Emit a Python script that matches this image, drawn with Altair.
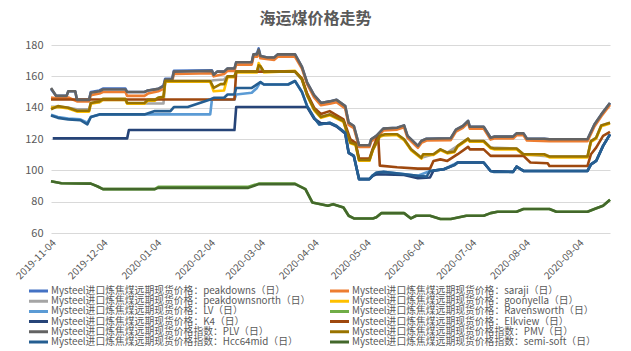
import altair as alt
import pandas as pd

FONT = "Noto Sans CJK SC"

LABELS = [
    "Mysteel进口炼焦煤远期现货价格：peakdowns（日）",
    "Mysteel进口炼焦煤远期现货价格：saraji（日）",
    "Mysteel进口炼焦煤远期现货价格：peakdownsnorth（日）",
    "Mysteel进口炼焦煤远期现货价格：goonyella（日）",
    "Mysteel进口炼焦煤远期现货价格：LV（日）",
    "Mysteel进口炼焦煤远期现货价格：Ravensworth（日）",
    "Mysteel进口炼焦煤远期现货价格：K4（日）",
    "Mysteel进口炼焦煤远期现货价格：Elkview（日）",
    "Mysteel进口炼焦煤远期现货价格指数：PLV（日）",
    "Mysteel进口炼焦煤远期现货价格指数：PMV（日）",
    "Mysteel进口炼焦煤远期现货价格指数：Hcc64mid（日）",
    "Mysteel进口炼焦煤远期现货价格指数：semi-soft（日）",
]
COLORS = ["#4472C4", "#ED7D31", "#A5A5A5", "#FFC000", "#5B9BD5", "#70AD47",
          "#264478", "#9E480E", "#636363", "#997300", "#255E91", "#43682B"]
# legend columns are filled top-to-bottom: left column first, then right column
LEGEND_ORDER = [0, 2, 4, 6, 8, 10, 1, 3, 5, 7, 9, 11]

PEAKDOWNS = [("2019-11-04",152.0),("2019-11-07",147.5),("2019-11-13",147.5),("2019-11-14",150.5),("2019-11-18",150.5),("2019-11-19",145.0),("2019-11-26",145.0),("2019-11-27",150.0),("2019-12-02",151.0),("2019-12-04",152.2),("2019-12-17",152.2),("2019-12-18",150.0),("2019-12-28",150.0),("2019-12-30",151.0),("2020-01-05",152.0),("2020-01-08",154.0),("2020-01-09",158.5),("2020-01-13",158.5),("2020-01-14",163.5),("2020-02-05",163.8),("2020-02-06",161.0),("2020-02-08",163.0),("2020-02-12",163.0),("2020-02-14",165.0),("2020-02-18",165.0),("2020-02-19",169.0),("2020-02-28",169.0),("2020-02-29",174.0),("2020-03-02",174.5),("2020-03-03",177.8),("2020-03-04",173.0),("2020-03-08",172.0),("2020-03-12",172.0),("2020-03-14",174.0),("2020-03-24",174.0),("2020-03-28",166.0),("2020-03-31",156.0),("2020-04-04",148.0),("2020-04-08",143.0),("2020-04-13",144.0),("2020-04-17",145.0),("2020-04-22",141.0),("2020-04-24",130.4),("2020-04-27",128.3),("2020-04-30",116.0),("2020-05-06",116.0),("2020-05-07",119.8),("2020-05-10",122.0),("2020-05-14",126.6),("2020-05-22",127.2),("2020-05-26",128.7),("2020-05-28",122.0),("2020-06-03",115.6),("2020-06-05",118.7),("2020-06-08",120.2),("2020-06-22",120.5),("2020-06-25",126.0),("2020-06-29",128.3),("2020-07-02",131.5),("2020-07-03",127.8),("2020-07-11",127.8),("2020-07-15",120.8),("2020-07-17",121.5),("2020-07-28",121.5),("2020-07-30",123.6),("2020-08-03",123.6),("2020-08-05",120.2),("2020-08-15",120.2),("2020-08-18",119.8),("2020-09-09",119.8),("2020-09-13",129.3),("2020-09-17",135.7),("2020-09-22",143.0)]

SARAJI = [("2019-11-04",146.5),("2019-11-07",146.0),("2019-11-13",146.0),("2019-11-14",146.5),("2019-11-19",144.0),("2019-11-26",144.0),("2019-11-27",148.0),("2019-12-02",149.0),("2019-12-04",150.0),("2019-12-17",150.0),("2019-12-18",147.5),("2019-12-28",147.5),("2019-12-30",149.0),("2020-01-05",150.5),("2020-01-08",152.0),("2020-01-09",156.5),("2020-01-13",156.5),("2020-01-14",161.5),("2020-02-05",162.0),("2020-02-06",160.0),("2020-02-12",161.5),("2020-02-14",163.5),("2020-02-18",163.5),("2020-02-19",167.5),("2020-02-28",167.5),("2020-02-29",172.5),("2020-03-02",172.5),("2020-03-03",175.5),("2020-03-04",171.5),("2020-03-12",170.5),("2020-03-14",172.5),("2020-03-24",172.5),("2020-03-28",165.0),("2020-03-31",155.0),("2020-04-04",146.5),("2020-04-08",141.5),("2020-04-13",142.5),("2020-04-17",143.5),("2020-04-22",139.5),("2020-04-24",129.0),("2020-04-27",127.0),("2020-04-30",115.0),("2020-05-06",115.0),("2020-05-07",118.5),("2020-05-10",120.8),("2020-05-14",125.4),("2020-05-22",126.0),("2020-05-26",127.5),("2020-05-28",120.8),("2020-06-03",114.4),("2020-06-05",117.5),("2020-06-08",119.0),("2020-06-22",119.3),("2020-06-25",124.8),("2020-06-29",127.1),("2020-07-02",130.3),("2020-07-03",126.6),("2020-07-11",126.6),("2020-07-15",119.6),("2020-07-17",120.3),("2020-07-28",120.3),("2020-07-30",122.4),("2020-08-03",122.4),("2020-08-05",119.0),("2020-08-18",118.6),("2020-09-09",118.6),("2020-09-13",128.0),("2020-09-17",134.5),("2020-09-22",141.8)]

PEAKDOWNSNORTH = [("2019-11-04",140.5),("2019-11-08",140.5),("2019-11-14",140.0),("2019-11-19",139.0),("2019-11-26",139.0),("2019-11-27",143.0),("2019-12-02",143.5),("2019-12-04",145.0),("2019-12-17",145.0),("2019-12-18",142.7),("2020-01-08",142.7),("2020-01-09",157.0),("2020-02-04",157.0),("2020-02-06",157.5),("2020-02-12",158.0),("2020-02-14",160.0),("2020-02-18",160.0),("2020-02-19",163.0),("2020-03-02",163.0),("2020-03-03",166.0),("2020-03-06",163.0),("2020-03-24",163.0),("2020-03-28",158.0),("2020-03-31",148.0),("2020-04-04",139.0),("2020-04-08",134.0),("2020-04-13",135.7),("2020-04-21",131.5),("2020-04-25",117.7),("2020-04-28",116.6),("2020-04-30",106.6),("2020-05-06",106.6),("2020-05-08",113.4),("2020-05-12",122.0),("2020-05-22",123.0),("2020-05-26",119.8),("2020-05-30",113.4),("2020-06-05",108.0),("2020-06-12",110.3),("2020-06-16",113.4),("2020-06-20",111.3),("2020-06-26",115.6),("2020-07-02",120.2),("2020-07-03",118.7),("2020-07-11",118.7),("2020-07-15",114.5),("2020-07-30",113.9),("2020-08-03",110.3),("2020-08-18",108.8),("2020-09-09",108.8),("2020-09-11",118.7),("2020-09-14",120.8),("2020-09-17",128.7),("2020-09-22",130.4)]

GOONYELLA = [("2019-11-04",140.0),("2019-11-08",140.5),("2019-11-14",139.5),("2019-11-19",137.5),("2019-11-26",137.5),("2019-11-27",142.5),("2019-12-02",143.5),("2019-12-04",145.0),("2019-12-17",145.0),("2019-12-18",142.5),("2019-12-28",142.5),("2019-12-30",144.5),("2020-01-03",144.5),("2020-01-05",146.0),("2020-01-08",146.5),("2020-01-09",156.5),("2020-02-04",156.5),("2020-02-06",150.5),("2020-02-12",151.0),("2020-02-14",159.5),("2020-02-18",159.5),("2020-02-19",162.5),("2020-03-02",162.5),("2020-03-03",168.5),("2020-03-06",162.5),("2020-03-24",163.5),("2020-03-28",158.5),("2020-03-31",148.0),("2020-04-04",138.5),("2020-04-08",133.5),("2020-04-13",135.2),("2020-04-21",131.0),("2020-04-25",117.2),("2020-04-28",116.1),("2020-04-30",106.1),("2020-05-06",106.1),("2020-05-08",112.9),("2020-05-12",121.5),("2020-05-15",122.5),("2020-05-22",122.5),("2020-05-26",119.3),("2020-05-30",112.9),("2020-06-05",107.5),("2020-06-06",109.8),("2020-06-12",109.8),("2020-06-16",112.9),("2020-06-20",110.8),("2020-06-24",111.5),("2020-06-26",115.1),("2020-07-02",119.7),("2020-07-03",118.2),("2020-07-11",118.2),("2020-07-15",114.0),("2020-07-17",113.4),("2020-07-30",113.4),("2020-08-03",109.8),("2020-08-15",109.8),("2020-08-18",108.3),("2020-09-09",108.3),("2020-09-11",118.2),("2020-09-14",120.3),("2020-09-17",128.2),("2020-09-22",129.9)]

LV = [("2019-11-04",135.5),("2019-11-08",134.0),("2019-11-14",133.0),("2019-11-21",132.5),("2019-11-25",130.4),("2019-11-27",134.0),("2019-12-02",135.7),("2020-02-04",135.7),("2020-02-05",145.2),("2020-02-18",145.2),("2020-02-19",148.4),("2020-02-28",149.5),("2020-03-02",152.6),("2020-03-04",156.3),("2020-03-06",154.8),("2020-03-20",154.8),("2020-03-24",157.0),("2020-03-28",150.0),("2020-03-31",141.0),("2020-04-04",133.6),("2020-04-07",129.3),("2020-04-13",130.4),("2020-04-17",128.3),("2020-04-22",124.0),("2020-04-24",111.3),("2020-04-27",109.2),("2020-04-30",94.4),("2020-05-06",94.4),("2020-05-08",96.9),("2020-05-14",99.0),("2020-06-03",96.5),("2020-06-10",99.6),("2020-06-18",100.7),("2020-06-26",105.0),("2020-07-11",105.0),("2020-07-15",99.6),("2020-07-28",99.0),("2020-07-30",102.3),("2020-08-03",99.6),("2020-09-09",99.6),("2020-09-11",103.8),("2020-09-14",106.0),("2020-09-18",115.6),("2020-09-22",123.0)]

RAVENSWORTH = [("2019-11-04",93.0),("2019-11-10",91.8),("2019-11-27",91.5),("2019-12-01",89.7),("2019-12-04",88.0),("2020-01-03",88.0),("2020-01-05",89.5),("2020-02-26",89.5),("2020-03-03",91.5),("2020-03-24",91.5),("2020-03-30",88.0),("2020-04-03",79.5),("2020-04-12",77.4),("2020-04-15",78.4),("2020-04-21",76.3),("2020-04-24",71.0),("2020-04-27",69.3),("2020-05-08",69.3),("2020-05-10",70.0),("2020-05-13",72.7),("2020-05-26",72.7),("2020-05-30",69.3),("2020-06-02",71.0),("2020-06-10",71.0),("2020-06-16",68.9),("2020-06-22",68.9),("2020-07-01",71.0),("2020-07-11",71.0),("2020-07-15",72.7),("2020-07-19",73.6),("2020-07-30",73.6),("2020-08-03",75.3),("2020-08-18",75.3),("2020-08-22",73.6),("2020-09-09",73.6),("2020-09-13",75.3),("2020-09-18",77.4),("2020-09-22",81.2)]

K4 = [("2019-11-05",120.4),("2019-12-18",120.4),("2019-12-19",125.7),("2020-02-18",125.7),("2020-02-19",140.4),("2020-03-31",140.4),("2020-04-04",133.0),("2020-04-08",130.0),("2020-04-13",130.0),("2020-04-17",128.0),("2020-04-22",123.5),("2020-04-24",111.0),("2020-04-27",109.0),("2020-04-30",94.4),("2020-05-06",94.4),("2020-05-08",96.5),("2020-05-10",97.5),("2020-05-26",97.0),("2020-06-03",95.0),("2020-06-10",95.4),("2020-06-12",99.8),("2020-06-18",100.7),("2020-06-24",103.3),("2020-06-26",105.0),("2020-07-11",105.0),("2020-07-15",99.6),("2020-07-28",99.0),("2020-07-30",102.3),("2020-08-03",99.6),("2020-09-09",99.6),("2020-09-11",103.8),("2020-09-14",106.0),("2020-09-18",115.6),("2020-09-22",123.0)]

ELKVIEW = [("2019-11-04",145.2),("2020-02-18",145.2),("2020-02-19",163.0),("2020-03-24",163.0),("2020-03-28",158.5),("2020-03-31",149.0),("2020-04-04",140.0),("2020-04-08",136.0),("2020-04-13",137.8),("2020-04-21",132.5),("2020-04-25",119.8),("2020-04-28",117.5),("2020-04-30",107.5),("2020-05-06",107.5),("2020-05-08",114.0),("2020-05-11",122.5),("2020-05-12",103.0),("2020-05-22",102.0),("2020-06-03",101.1),("2020-06-10",101.1),("2020-06-12",106.0),("2020-06-16",107.0),("2020-06-20",106.0),("2020-06-26",110.3),("2020-07-02",115.0),("2020-07-03",113.4),("2020-07-11",113.4),("2020-07-15",109.2),("2020-08-03",109.2),("2020-08-07",105.0),("2020-08-17",104.5),("2020-08-18",102.8),("2020-09-09",102.8),("2020-09-11",110.3),("2020-09-14",114.5),("2020-09-18",122.0),("2020-09-22",124.5)]

PLV = [("2019-11-04",152.6),("2019-11-07",147.5),("2019-11-13",147.5),("2019-11-14",150.5),("2019-11-18",150.5),("2019-11-19",145.0),("2019-11-26",145.0),("2019-11-27",149.5),("2019-12-02",150.5),("2019-12-04",151.6),("2019-12-17",151.6),("2019-12-18",150.0),("2019-12-28",150.0),("2019-12-30",151.0),("2020-01-05",152.0),("2020-01-08",153.7),("2020-01-09",158.0),("2020-01-13",158.0),("2020-01-14",163.0),("2020-02-05",163.5),("2020-02-06",161.0),("2020-02-08",163.0),("2020-02-12",163.0),("2020-02-14",165.0),("2020-02-18",165.0),("2020-02-19",169.0),("2020-02-28",169.0),("2020-02-29",174.0),("2020-03-02",174.0),("2020-03-03",177.0),("2020-03-04",173.0),("2020-03-08",172.0),("2020-03-12",172.0),("2020-03-14",174.0),("2020-03-24",174.0),("2020-03-28",166.0),("2020-03-31",156.0),("2020-04-04",148.0),("2020-04-08",143.0),("2020-04-13",144.0),("2020-04-17",145.0),("2020-04-22",141.0),("2020-04-24",130.4),("2020-04-27",128.3),("2020-04-30",116.0),("2020-05-06",116.0),("2020-05-07",119.8),("2020-05-10",122.0),("2020-05-14",126.6),("2020-05-22",127.2),("2020-05-26",128.7),("2020-05-28",122.0),("2020-06-03",115.6),("2020-06-05",118.7),("2020-06-08",120.2),("2020-06-22",120.5),("2020-06-25",126.0),("2020-06-29",128.3),("2020-07-02",131.5),("2020-07-03",127.8),("2020-07-11",127.8),("2020-07-15",120.8),("2020-07-17",121.5),("2020-07-28",121.5),("2020-07-30",123.6),("2020-08-03",123.6),("2020-08-05",120.2),("2020-08-15",120.2),("2020-08-18",119.8),("2020-09-09",119.8),("2020-09-13",129.3),("2020-09-17",135.7),("2020-09-22",143.0)]

PMV = [("2019-11-04",139.0),("2019-11-08",141.0),("2019-11-14",140.0),("2019-11-19",138.0),("2019-11-26",138.0),("2019-11-27",143.0),("2019-12-02",144.0),("2019-12-04",145.6),("2019-12-17",145.6),("2019-12-18",143.0),("2019-12-28",143.0),("2019-12-30",145.0),("2020-01-03",145.0),("2020-01-05",146.5),("2020-01-08",147.0),("2020-01-09",157.0),("2020-02-04",157.0),("2020-02-06",152.6),("2020-02-10",155.0),("2020-02-12",155.0),("2020-02-14",160.0),("2020-02-18",160.0),("2020-02-19",163.0),("2020-03-02",163.0),("2020-03-03",167.0),("2020-03-04",166.5),("2020-03-06",163.0),("2020-03-24",163.0),("2020-03-28",158.0),("2020-03-31",148.0),("2020-04-04",139.0),("2020-04-08",134.0),("2020-04-13",135.7),("2020-04-21",131.5),("2020-04-25",117.7),("2020-04-28",116.6),("2020-04-30",106.6),("2020-05-06",106.6),("2020-05-08",113.4),("2020-05-12",122.0),("2020-05-15",123.0),("2020-05-22",123.0),("2020-05-26",119.8),("2020-05-30",113.4),("2020-06-05",108.0),("2020-06-06",110.3),("2020-06-12",110.3),("2020-06-16",113.4),("2020-06-20",111.3),("2020-06-24",112.0),("2020-06-26",115.6),("2020-07-02",120.2),("2020-07-03",118.7),("2020-07-11",118.7),("2020-07-15",114.5),("2020-07-17",113.9),("2020-07-30",113.9),("2020-08-03",110.3),("2020-08-15",110.3),("2020-08-18",108.8),("2020-09-09",108.8),("2020-09-11",118.7),("2020-09-14",120.8),("2020-09-17",128.7),("2020-09-22",130.4)]

HCC64MID = [("2019-11-04",135.0),("2019-11-08",133.5),("2019-11-14",132.5),("2019-11-21",132.0),("2019-11-25",129.3),("2019-11-27",134.0),("2019-12-02",135.7),("2019-12-28",135.7),("2020-01-03",137.8),("2020-01-12",137.8),("2020-01-14",140.4),("2020-01-22",140.4),("2020-02-04",145.2),("2020-02-06",146.3),("2020-02-12",146.3),("2020-02-14",148.4),("2020-02-18",148.4),("2020-02-19",152.6),("2020-02-28",152.6),("2020-03-04",156.3),("2020-03-06",154.8),("2020-03-20",154.8),("2020-03-24",157.0),("2020-03-28",150.0),("2020-03-31",141.0),("2020-04-04",133.6),("2020-04-07",129.3),("2020-04-13",130.4),("2020-04-17",128.3),("2020-04-22",124.0),("2020-04-24",111.3),("2020-04-27",109.2),("2020-04-30",94.4),("2020-05-06",94.4),("2020-05-08",96.9),("2020-05-10",98.6),("2020-05-14",99.0),("2020-06-03",96.5),("2020-06-08",96.0),("2020-06-10",99.6),("2020-06-18",100.7),("2020-06-24",103.3),("2020-06-26",105.0),("2020-07-11",105.0),("2020-07-15",99.6),("2020-07-17",99.0),("2020-07-28",99.0),("2020-07-30",102.3),("2020-08-03",99.6),("2020-09-09",99.6),("2020-09-11",103.8),("2020-09-14",106.0),("2020-09-18",115.6),("2020-09-22",123.0)]

SEMISOFT = [("2019-11-04",93.0),("2019-11-10",91.8),("2019-11-27",91.5),("2019-12-01",89.7),("2019-12-04",88.0),("2020-01-03",88.0),("2020-01-05",88.8),("2020-02-26",88.8),("2020-03-03",91.2),("2020-03-24",91.2),("2020-03-30",88.0),("2020-04-03",79.5),("2020-04-12",77.4),("2020-04-15",78.4),("2020-04-21",76.3),("2020-04-24",71.0),("2020-04-27",69.3),("2020-05-08",69.3),("2020-05-10",70.0),("2020-05-13",72.7),("2020-05-26",72.7),("2020-05-30",69.3),("2020-06-02",71.0),("2020-06-10",71.0),("2020-06-16",68.9),("2020-06-22",68.9),("2020-07-01",71.0),("2020-07-11",71.0),("2020-07-15",72.7),("2020-07-19",73.6),("2020-07-30",73.6),("2020-08-03",75.3),("2020-08-18",75.3),("2020-08-22",73.6),("2020-09-09",73.6),("2020-09-13",75.3),("2020-09-18",77.4),("2020-09-22",81.2)]

SERIES_DATA = [PEAKDOWNS, SARAJI, PEAKDOWNSNORTH, GOONYELLA, LV, RAVENSWORTH,
               K4, ELKVIEW, PLV, PMV, HCC64MID, SEMISOFT]

Y_TICKS = [60, 80, 100, 120, 140, 160, 180]
X_TICKS = [(2019, 11, 4), (2019, 12, 4), (2020, 1, 4), (2020, 2, 4), (2020, 3, 4),
           (2020, 4, 4), (2020, 5, 4), (2020, 6, 4), (2020, 7, 4), (2020, 8, 4),
           (2020, 9, 4)]
X_DOMAIN = [(2019, 11, 4), (2020, 9, 22)]

def dt(t):
    return alt.DateTime(year=t[0], month=t[1], date=t[2], utc=True)

color_scale = alt.Scale(domain=[LABELS[i] for i in LEGEND_ORDER],
                        range=[COLORS[i] for i in LEGEND_ORDER])
legend = alt.Legend(
    orient="none", legendX=-22, legendY=241, columns=2, title=None,
    symbolType="M-2.5,0H2.5", symbolSize=100, symbolStrokeWidth=3,
    labelFontSize=9.8, labelColor="#595959", labelFont=FONT, labelLimit=400,
    columnPadding=19, rowPadding=0.2, clipHeight=10, symbolOffset=0, labelOffset=9,
)

layers = []
for label, data in zip(LABELS, SERIES_DATA):
    df = pd.DataFrame(data, columns=["date", "value"])
    df["series"] = label
    layers.append(
        alt.Chart(df).mark_line(strokeWidth=2.6, strokeJoin="round").encode(
            x=alt.X("date:T",
                    scale=alt.Scale(type="utc", domain=[dt(t) for t in X_DOMAIN], nice=False),
                    axis=alt.Axis(values=[dt(t) for t in X_TICKS], format="%Y-%m-%d",
                                  labelAngle=-45, labelAlign="right", labelBaseline="middle",
                                  labelPadding=8, labelOffset=3, ticks=False, domain=False,
                                  grid=False, title=None, labelFontSize=10,
                                  labelColor="#595959", labelFont=FONT)),
            y=alt.Y("value:Q",
                    scale=alt.Scale(domain=[60, 180], nice=False, zero=False),
                    axis=alt.Axis(values=Y_TICKS, ticks=False, domain=False, title=None,
                                  gridColor="#D9D9D9", gridWidth=1, labelPadding=8,
                                  labelFontSize=11, labelColor="#595959", labelFont=FONT)),
            color=alt.Color("series:N", scale=color_scale, legend=legend),
        )
    )

chart = alt.layer(*layers).properties(
    width=559, height=188,
    title=alt.TitleParams("海运煤价格走势", fontSize=16, color="#595959", font=FONT,
                          fontWeight="bold", anchor="middle", dx=-15, offset=12),
    padding={"left": 51, "top": 45, "right": 21, "bottom": 118},
    autosize=alt.AutoSizeParams(type="none"),
    background="white",
).configure_view(stroke=None)

chart.save("out.html", embed_options={"renderer": "svg", "actions": False})
